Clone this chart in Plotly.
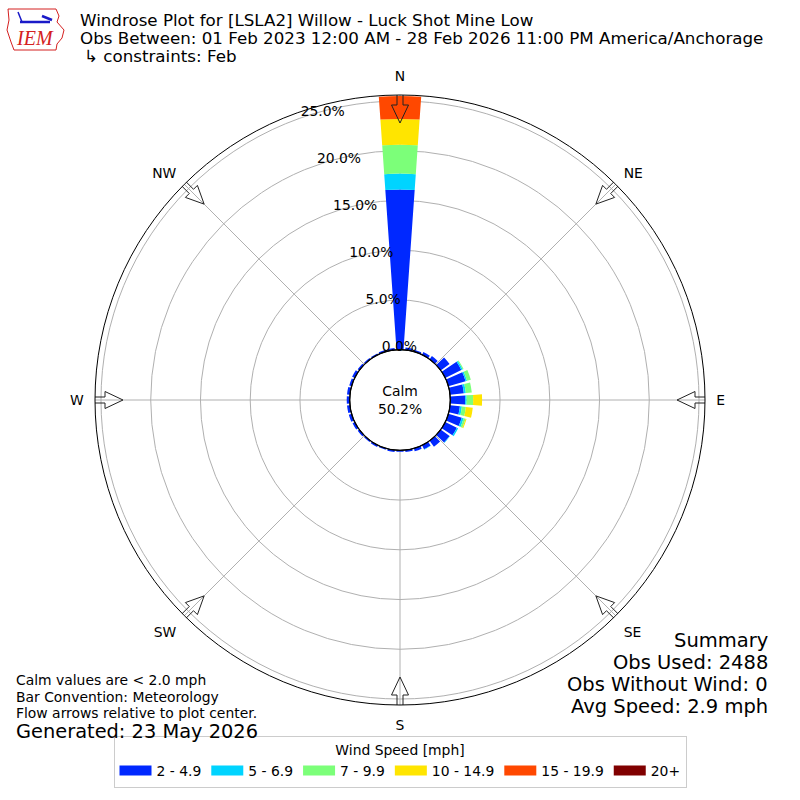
import numpy as np
import plotly.graph_objects as go

# ---------------- data ----------------
directions = list(range(0, 360, 10))
speed_bins = ["2 - 4.9", "5 - 6.9", "7 - 9.9", "10 - 14.9", "15 - 19.9", "20+"]
bin_colors = ["#0028ff", "#00d4ff", "#7cff79", "#ffe500", "#ff4800", "#800000"]

s_2_5 = [16.1, 0.25, 0.2, 0.3, 0.4, 1.1, 1.8, 1.8, 1.4, 1.5, 1.0, 1.4,
         1.3, 1.1, 0.75, 0.45, 0.3, 0.2, 0.15, 0.2, 0.15, 0.2, 0.15, 0.2,
         0.25, 0.3, 0.3, 0.3, 0.3, 0.25, 0.3, 0.2, 0.15, 0.15, 0.2, 0.2]
s_5_7 = [1.6, 0, 0, 0, 0, 0, 0.15, 0.15, 0.2, 0.15, 0.2, 0.2,
         0.15, 0.05, 0, 0.05, 0, 0, 0, 0, 0, 0, 0, 0,
         0, 0, 0, 0, 0, 0, 0, 0, 0, 0, 0, 0]
s_7_10 = [2.9, 0, 0, 0, 0, 0, 0.1, 0.4, 0.6, 0.65, 0.4, 0.2,
          0, 0, 0, 0, 0, 0, 0, 0, 0, 0, 0, 0,
          0, 0, 0, 0, 0, 0, 0, 0, 0, 0, 0, 0]
s_10_15 = [2.6, 0, 0, 0, 0, 0, 0, 0, 0, 0.9, 0.7, 0.1,
           0, 0, 0, 0, 0, 0, 0, 0, 0, 0, 0, 0,
           0, 0, 0, 0, 0, 0, 0, 0, 0, 0, 0, 0]
s_15_20 = [2.3, 0, 0, 0, 0, 0, 0, 0, 0, 0, 0, 0,
           0, 0, 0, 0, 0, 0, 0, 0, 0, 0, 0, 0,
           0, 0, 0, 0, 0, 0, 0, 0, 0, 0, 0, 0]
s_20p = [0] * 36
series = [s_2_5, s_5_7, s_7_10, s_10_15, s_15_20, s_20p]

calm_pct = 50.2
radial_ticks = [0, 5, 10, 15, 20, 25]
compass_vals = [0, 45, 90, 135, 180, 225, 270, 315]
compass_text = ["N", "NE", "E", "SE", "S", "SW", "W", "NW"]

title_lines = [
    "Windrose Plot for [LSLA2] Willow - Luck Shot Mine Low",
    "Obs Between: 01 Feb 2023 12:00 AM - 28 Feb 2026 11:00 PM America/Anchorage",
    "\u21b3 constraints: Feb",
]
notes = ["Calm values are < 2.0 mph", "Bar Convention: Meteorology",
         "Flow arrows relative to plot center."]
generated = "Generated: 23 May 2026"
summary = ["Summary", "Obs Used: 2488", "Obs Without Wind: 0", "Avg Speed: 2.9 mph"]

# ---------------- geometry ----------------
W = H = 800
CX, CY = 400, 400
R_PX = 305.0
HOLE_PX = 50.3
RMAX = 25.6
FONT = "DejaVu Sans"
RAD_ANGLE = 109
LABEL_SHIFT = (-9, -6)   # pixel shift of the radial tick-label layer


def px(x):
    return x / W


def py(y):
    return 1 - y / H


def px_to_r(rp):
    return (rp - HOLE_PX) / (R_PX - HOLE_PX) * RMAX


fig = go.Figure()

for name, vals, col in zip(speed_bins, series, bin_colors):
    fig.add_trace(go.Barpolar(
        r=vals, theta=directions, width=8, name=name,
        marker=dict(color=col, line=dict(width=0)),
        showlegend=False,
    ))

# flow arrows on the outer ring (decoration)
arrow_local = [(307, -3), (307, 3), (295, 3), (295, 8.5), (277, 0),
               (295, -8.5), (295, -3), (307, -3)]
for d in compass_vals:
    rs, ts = [], []
    for u, v in arrow_local:
        rs.append(px_to_r(np.hypot(u, v)))
        ts.append(d + np.degrees(np.arctan2(v, u)))
    fig.add_trace(go.Scatterpolar(
        r=rs, theta=ts, mode="lines", line=dict(color="#222222", width=1),
        cliponaxis=False, showlegend=False, hoverinfo="skip",
    ))

# legend entries (wide swatches)
for name, col in zip(speed_bins, bin_colors):
    fig.add_trace(go.Scatterpolar(
        r=[None], theta=[None], mode="lines", name=name,
        line=dict(color=col, width=10), showlegend=True,
    ))

# carrier trace for the radial-label layer
fig.add_trace(go.Scatterpolar(r=[None], theta=[None], subplot="polar2",
                              mode="markers", showlegend=False, hoverinfo="skip"))

dom_x = [(CX - R_PX) / W, (CX + R_PX) / W]
dom_y = [1 - (CY + R_PX) / H, 1 - (CY - R_PX) / H]
dom2_x = [v + LABEL_SHIFT[0] / W for v in dom_x]
dom2_y = [v - LABEL_SHIFT[1] / H for v in dom_y]

fig.update_layout(
    width=W, height=H,
    margin=dict(l=0, r=0, t=0, b=0),
    paper_bgcolor="white", plot_bgcolor="white",
    font=dict(family=FONT, color="black", size=13),
    polar=dict(
        domain=dict(x=dom_x, y=dom_y),
        hole=HOLE_PX / R_PX,
        barmode="stack",
        bgcolor="white",
        radialaxis=dict(
            range=[0, RMAX], tickvals=radial_ticks,
            showline=False, ticks="", showticklabels=False, angle=RAD_ANGLE,
            gridcolor="#b0b0b0", gridwidth=0.8, layer="above traces",
        ),
        angularaxis=dict(
            rotation=90, direction="clockwise",
            tickvals=compass_vals, ticktext=compass_text,
            showline=True, linecolor="black", linewidth=1,
            gridcolor="#b0b0b0", gridwidth=0.8, layer="above traces",
            ticks="outside", ticklen=8, tickcolor="rgba(0,0,0,0)",
            tickfont=dict(size=13.9, family=FONT),
        ),
    ),
    polar2=dict(
        domain=dict(x=dom2_x, y=dom2_y),
        hole=HOLE_PX / R_PX,
        bgcolor="rgba(0,0,0,0)",
        radialaxis=dict(
            range=[0, RMAX], tickvals=radial_ticks,
            ticktext=[f"{v:.1f}%" for v in radial_ticks],
            showline=False, showgrid=False, ticks="",
            angle=RAD_ANGLE, tickangle=RAD_ANGLE, side="clockwise",
            tickfont=dict(size=13.9, family=FONT),
        ),
        angularaxis=dict(visible=False, rotation=90, direction="clockwise"),
    ),
    legend=dict(
        orientation="h", x=0.5, xanchor="center", y=0.015, yanchor="bottom",
        title=dict(text="Wind Speed [mph]", side="top center",
                   font=dict(size=13.9, family=FONT)),
        font=dict(size=13.9, family=FONT), itemwidth=32,
        bordercolor="#cccccc", borderwidth=1, bgcolor="white",
    ),
)

# calm circle outline
fig.add_shape(type="circle", xref="paper", yref="paper",
              x0=px(CX - HOLE_PX), x1=px(CX + HOLE_PX),
              y0=py(CY + HOLE_PX), y1=py(CY - HOLE_PX),
              line=dict(color="black", width=1.2), layer="above")

ann = []
ann.append(dict(x=0.5, y=0.5, xref="paper", yref="paper",
                text=f"Calm<br>{calm_pct:.1f}%", showarrow=False,
                font=dict(size=13.9, family=FONT)))
for i, t in enumerate(title_lines):
    ann.append(dict(x=px(78 if i < 2 else 82), y=py(20 + 18 * i), xref="paper", yref="paper",
                    text=t, showarrow=False, xanchor="left", yanchor="middle",
                    font=dict(size=16.7, family=FONT)))
for i, t in enumerate(notes):
    ann.append(dict(x=px(14), y=py(680 + 16.5 * i), xref="paper", yref="paper",
                    text=t, showarrow=False, xanchor="left", yanchor="middle",
                    font=dict(size=13.9, family=FONT)))
ann.append(dict(x=px(14), y=py(731), xref="paper", yref="paper",
                text=generated, showarrow=False, xanchor="left", yanchor="middle",
                font=dict(size=19.4, family=FONT)))
for i, t in enumerate(summary):
    ann.append(dict(x=px(770), y=py(640 + 22 * i), xref="paper", yref="paper",
                    text=t, showarrow=False, xanchor="right", yanchor="middle",
                    font=dict(size=19.5, family=FONT)))
# logo approximation
ann.append(dict(x=px(14), y=py(38), xref="paper", yref="paper", text="<i>IEM</i>",
                xanchor="left", yanchor="middle",
                showarrow=False, font=dict(size=20, family="Liberation Serif", color="#d42020")))
fig.update_layout(annotations=ann)

logo_pts = [(8, 9), (56, 9), (59, 16), (57, 22), (64, 30), (62, 38), (57, 44),
            (56, 50), (14, 50), (11, 42), (7, 30), (9, 20)]
path = "M " + " L ".join(f"{px(x)},{py(y)}" for x, y in logo_pts) + " Z"
fig.add_shape(type="path", xref="paper", yref="paper", path=path,
              line=dict(color="#d42020", width=1))
fig.add_shape(type="line", xref="paper", yref="paper", x0=px(20), x1=px(50),
              y0=py(22), y1=py(22), line=dict(color="#1a1ac8", width=2.5))
fig.add_shape(type="line", xref="paper", yref="paper", x0=px(18), x1=px(22),
              y0=py(12), y1=py(22), line=dict(color="#1a1ac8", width=1.5))
fig.add_shape(type="line", xref="paper", yref="paper", x0=px(42), x1=px(52),
              y0=py(16), y1=py(20), line=dict(color="#1a1ac8", width=2.5))

fig.write_html("out.html", config={"displayModeBar": False},
               post_script="document.body.style.margin='0px';"
                           "document.body.style.overflow='hidden';")
